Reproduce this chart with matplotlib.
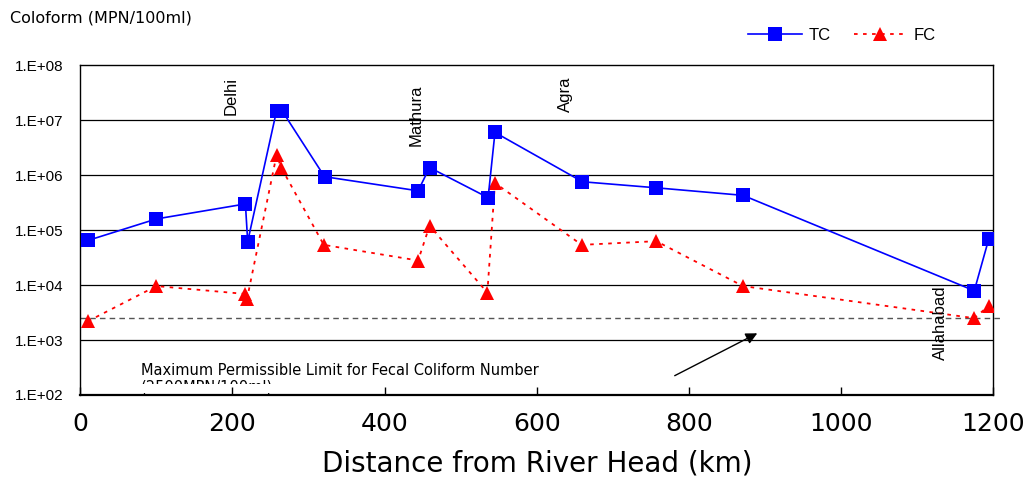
import math
import matplotlib
matplotlib.use("Agg")
import matplotlib.pyplot as plt
from matplotlib.patches import Rectangle
from matplotlib.ticker import FixedLocator, FuncFormatter, NullLocator

plt.rcParams['font.family'] = ['Liberation Sans', 'DejaVu Sans']

# Total coliform along the river
tc_km = [10, 100, 217, 220, 258, 265, 321, 444, 459, 536, 545, 660, 757, 871, 1175, 1194]
tc_val = [6.5e4, 1.6e5, 3.0e5, 6.2e4, 1.5e7, 1.5e7, 9.4e5, 5.2e5, 1.38e6, 3.9e5, 6.0e6,
          7.6e5, 5.9e5, 4.3e5, 7.9e3, 6.9e4]

# Fecal coliform along the river
fc_km = [10, 100, 217, 219, 258, 264, 320, 444, 459, 535, 545, 659, 757, 871, 1175, 1194]
fc_val = [2.2e3, 9.6e3, 6.9e3, 5.5e3, 2.35e6, 1.38e6, 5.4e4, 2.8e4, 1.2e5, 7.3e3, 7.2e5,
          5.4e4, 6.3e4, 9.6e3, 2.5e3, 4.2e3]

fc_limit = 2500

cities = ["Delhi", "Mathura", "Agra", "Allahabad"]
city_km = [198, 441, 638, 1130]
city_y = [2.8e7, 1.25e7, 3.0e7, 2.05e3]

x_ticks = [0, 200, 400, 600, 800, 1000, 1200]
y_ticks = [1e2, 1e3, 1e4, 1e5, 1e6, 1e7, 1e8]

fig = plt.figure(figsize=(10.27, 4.82), dpi=100)
ax = fig.add_axes([0.0782, 0.1805, 0.8890, 0.6840])

ax.set_yscale('log')
ax.set_xlim(0, 1200)
ax.set_ylim(1e2, 1e8)

# horizontal grid at each decade
for v in y_ticks[1:-1]:
    ax.axhline(v, color='black', lw=0.9, zorder=1)

# permissible limit line runs a little past the right edge
ax.plot([0, 1212], [fc_limit, fc_limit], color='#555555', lw=1.0,
        linestyle=(0, (4, 3)), clip_on=False, zorder=2)

ax.plot(tc_km, tc_val, color='#0000FF', lw=1.2, marker='s', markersize=10,
        markeredgewidth=0, label='TC', zorder=4)
ax.plot(fc_km, fc_val, color='#FF0000', lw=1.3, linestyle=(0, (2, 3)), marker='^',
        markersize=10, markeredgewidth=0, label='FC', zorder=3)

for name, xk, yv in zip(cities, city_km, city_y):
    ax.text(xk, yv, name, rotation=90, ha='center', va='center', fontsize=12, zorder=5)

ax.text(80, 285, "Maximum Permissible Limit for Fecal Coliform Number",
        fontsize=10.5, family='DejaVu Sans', ha='left', va='center')
ax.text(80, 140, "(2500MPN/100ml)", fontsize=10.5, family='DejaVu Sans',
        ha='left', va='center', zorder=1.2)
# the second line is cut off along its lower half (tick marks stay on top)
ax.add_patch(Rectangle((0.05, 0.006), 0.4, 0.026, transform=ax.transAxes,
                       facecolor='white', edgecolor='none', zorder=1.3))

ax.annotate("", xy=(893, 1400), xytext=(778, 213),
            arrowprops=dict(arrowstyle='-|>', color='black', lw=1.0, mutation_scale=17))

ax.xaxis.set_major_locator(FixedLocator(x_ticks))
ax.yaxis.set_major_locator(FixedLocator(y_ticks))
ax.yaxis.set_minor_locator(NullLocator())
ax.yaxis.set_major_formatter(FuncFormatter(lambda v, p: "1.E+%02d" % round(math.log10(v))))
ax.tick_params(axis='x', direction='in', length=6, width=1, labelsize=18, pad=12)
ax.tick_params(axis='y', length=0, labelsize=11, pad=12)
for lbl in ax.get_xticklabels():
    lbl.set_family('DejaVu Sans')

for s in ax.spines.values():
    s.set_linewidth(1.0)
ax.spines['bottom'].set_linewidth(1.6)

ax.set_xlabel("Distance from River Head (km)", fontsize=20, family='DejaVu Sans', labelpad=10)

fig.text(10 / 1027, 1 - 18 / 482, "Coloform (MPN/100ml)", fontsize=11.5,
         family='DejaVu Sans', ha='left', va='center')

fig.legend(loc='center', bbox_to_anchor=(842 / 1027, 1 - 35 / 482), ncol=2, frameon=False,
           fontsize=12, handlelength=3.2, columnspacing=1.4, handletextpad=0.4)

fig.savefig("out.png", dpi=100)
